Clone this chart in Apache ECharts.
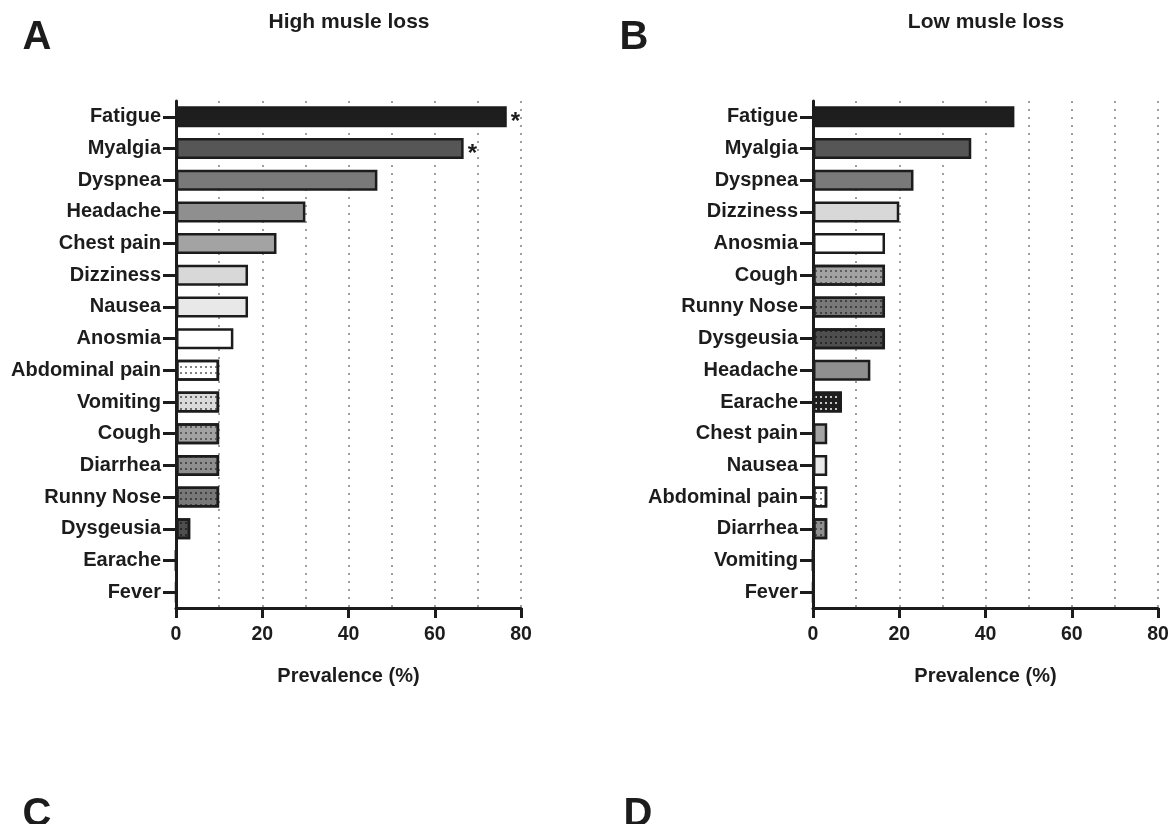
<!DOCTYPE html>
<html>
<head>
<meta charset="utf-8">
<script src="https://cdn.jsdelivr.net/npm/echarts@6/dist/echarts.min.js"></script>
<style>
html,body{margin:0;padding:0;background:#fff;}
#chart{width:1173px;height:824px;}
</style>
</head>
<body>
<div id="chart"></div>
<script>
// ---- Data ----
const categoriesA = ['Fatigue','Myalgia','Dyspnea','Headache','Chest pain','Dizziness','Nausea','Anosmia','Abdominal pain','Vomiting','Cough','Diarrhea','Runny Nose','Dysgeusia','Earache','Fever'];
const valuesA = [76.7,66.7,46.7,30,23.3,16.7,16.7,13.3,10,10,10,10,10,3.3,0,0];
const markersA = ['*','*','','','','','','','','','','','','','',''];

const categoriesB = ['Fatigue','Myalgia','Dyspnea','Dizziness','Anosmia','Cough','Runny Nose','Dysgeusia','Headache','Earache','Chest pain','Nausea','Abdominal pain','Diarrhea','Vomiting','Fever'];
const valuesB = [46.7,36.7,23.3,20,16.7,16.7,16.7,16.7,13.3,6.7,3.3,3.3,3.3,3.3,0,0];

const xTicks = [0,20,40,60,80];

// ---- Styles per symptom ----
const FONT = '"Liberation Sans", Arial, Helvetica, sans-serif';
const INK = '#1c1c1c';
function dots(color){
  return {symbol:'circle', symbolSize:1, color:color, dashArrayX:[2,3], dashArrayY:[2,4]};
}
const symptomStyle = {
  'Fatigue':        {color:'#1e1e1e'},
  'Myalgia':        {color:'#565656'},
  'Dyspnea':        {color:'#797979'},
  'Headache':       {color:'#8f8f8f'},
  'Chest pain':     {color:'#a3a3a3'},
  'Dizziness':      {color:'#d8d8d8'},
  'Nausea':         {color:'#e8e8e8'},
  'Anosmia':        {color:'#ffffff'},
  'Abdominal pain': {color:'#ffffff', decal:dots('#555555')},
  'Vomiting':       {color:'#dadada', decal:dots('#444444')},
  'Cough':          {color:'#a2a2a2', decal:dots('#444444')},
  'Diarrhea':       {color:'#8e8e8e', decal:dots('#333333')},
  'Runny Nose':     {color:'#787878', decal:dots('#2e2e2e')},
  'Dysgeusia':      {color:'#4e4e4e', decal:dots('#1e1e1e')},
  'Earache':        {color:'#1e1e1e', decal:dots('#ffffff')},
  'Fever':          {color:'#ffffff'}
};

function buildData(cats, vals){
  return vals.map((v,i)=>{
    const s = symptomStyle[cats[i]];
    const it = {color:s.color, borderColor:INK, borderWidth:2.5};
    if (s.decal) it.decal = s.decal;
    return {value:v, itemStyle:it};
  });
}

const dotted = {color:'#a0a0a0', width:2, type:[2,6], cap:'butt'};

function xAxisCfg(gi){
  return {
    type:'value', gridIndex:gi, min:0, max:80, interval:20,
    name:'Prevalence (%)', nameLocation:'middle', nameGap:58,
    nameTextStyle:{fontFamily:FONT, fontWeight:'bold', fontSize:20, color:INK},
    axisLine:{show:true, lineStyle:{color:INK, width:3}},
    axisTick:{show:true, length:10, lineStyle:{color:INK, width:3}},
    axisLabel:{margin:17, fontFamily:FONT, fontWeight:'bold', fontSize:19.5, color:INK,
      formatter:(v)=> xTicks.indexOf(v)>=0 ? String(v) : ''},
    splitLine:{show:true, lineStyle:dotted},
    minorTick:{show:false, splitNumber:2},
    minorSplitLine:{show:true, lineStyle:dotted}
  };
}
function yAxisCfg(gi, cats){
  return {
    type:'category', gridIndex:gi, data:cats, inverse:true,
    axisLine:{show:true, lineStyle:{color:INK, width:3}},
    axisTick:{show:true, alignWithLabel:true, length:13, lineStyle:{color:INK, width:3}},
    axisLabel:{margin:15, fontFamily:FONT, fontWeight:'bold', fontSize:20, color:INK},
    splitLine:{show:false}
  };
}

const chart = echarts.init(document.getElementById('chart'), null, {renderer:'canvas'});
chart.setOption({
  backgroundColor:'#ffffff',
  animation:false,
  grid:[
    {left:176, width:345, top:101, height:507},
    {left:813, width:345, top:101, height:507}
  ],
  xAxis:[xAxisCfg(0), xAxisCfg(1)],
  yAxis:[yAxisCfg(0, categoriesA), yAxisCfg(1, categoriesB)],
  series:[
    {type:'bar', xAxisIndex:0, yAxisIndex:0, barWidth:21,
     data:buildData(categoriesA, valuesA),
     label:{show:true, position:'right', distance:4, offset:[0,6],
       formatter:(p)=>markersA[p.dataIndex],
       fontFamily:FONT, fontWeight:'bold', fontSize:24, color:INK}},
    {type:'bar', xAxisIndex:1, yAxisIndex:1, barWidth:21,
     data:buildData(categoriesB, valuesB)}
  ],
  graphic:[
    {type:'text', x:37, y:38, style:{text:'A', font:'bold 40px '+FONT, fill:INK, textAlign:'center', textVerticalAlign:'middle'}},
    {type:'text', x:349, y:22, style:{text:'High musle loss', font:'bold 21px '+FONT, fill:INK, textAlign:'center', textVerticalAlign:'middle'}},
    {type:'text', x:634, y:38, style:{text:'B', font:'bold 40px '+FONT, fill:INK, textAlign:'center', textVerticalAlign:'middle'}},
    {type:'text', x:986, y:22, style:{text:'Low musle loss', font:'bold 21px '+FONT, fill:INK, textAlign:'center', textVerticalAlign:'middle'}},
    {type:'text', x:37, y:815, style:{text:'C', font:'bold 40px '+FONT, fill:INK, textAlign:'center', textVerticalAlign:'middle'}},
    {type:'text', x:638, y:815, style:{text:'D', font:'bold 40px '+FONT, fill:INK, textAlign:'center', textVerticalAlign:'middle'}}
  ]
});
</script>
</body>
</html>
